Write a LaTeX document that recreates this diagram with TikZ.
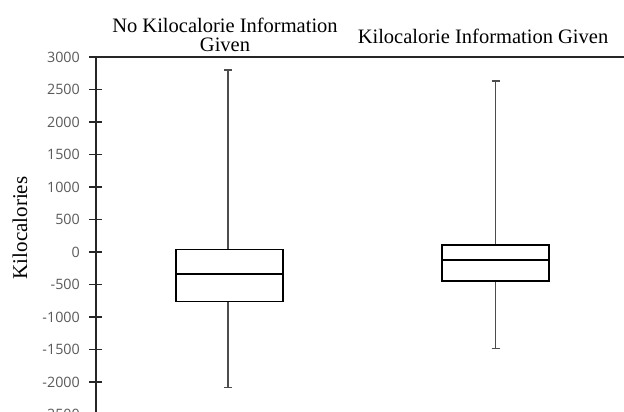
\documentclass[tikz,border=0pt]{standalone}
\usepackage{fontspec}
\setmainfont{Liberation Serif}
\newfontfamily\ticksfont{Open Sans}
\usetikzlibrary{positioning}

\definecolor{ticklabel}{HTML}{595959}
\definecolor{whiskergray}{HTML}{4D4D4D}

\tikzset{
  axisline/.style={line width=1.6pt,black!85},
  boxline/.style={line width=1.7pt,black},
  whisker/.style={line width=1.1pt,whiskergray},
  ticklab/.style={anchor=east,inner sep=0pt,text=ticklabel,font=\ticksfont\fontsize{14.3}{16}\selectfont},
  grouptitle/.style={align=center,inner sep=0pt,font=\fontsize{20.5}{19}\selectfont}
}

\begin{document}
\begin{tikzpicture}[x=1pt,y=1pt]
 \useasboundingbox (0,0) rectangle (624,412);
 % values on the y axis: 0.065pt per kilocalorie
 \begin{scope}[y=0.065pt,yshift=160pt]
  \draw[axisline] (96,3000) -- (96,-2700);
  \draw[axisline] (89,3000) -- (624,3000);
  \foreach \v in {-2500,-2000,...,2500}
   \draw[axisline] (89,\v) -- (102,\v);
  \foreach \v in {-2500,-2000,...,3000}
   \node[ticklab] at (80,\v) {\v};
  % no information given
  \draw[whisker] (228,2800) -- (228,40);
  \draw[whisker] (228,-760) -- (228,-2090);
  \draw[whisker] (224,2800) -- (232,2800);
  \draw[whisker] (224,-2090) -- (232,-2090);
  \draw[boxline,fill=white] (176,-760) rectangle (283,40);
  \draw[boxline] (176,-340) -- (283,-340);
  % information given
  \draw[whisker] (495.5,2630) -- (495.5,108);
  \draw[whisker] (495.5,-446) -- (495.5,-1490);
  \draw[whisker] (491.5,2630) -- (499.5,2630);
  \draw[whisker] (491.5,-1490) -- (499.5,-1490);
  \draw[boxline,fill=white] (442,-446) rectangle (549,108);
  \draw[boxline] (442,-128) -- (549,-128);
 \end{scope}
 \node[grouptitle] (notgiven) at (225,377) {No Kilocalorie Information\\Given};
 \node[grouptitle] (given) at (483,376) {Kilocalorie Information Given};
 \node[rotate=90,font=\fontsize{21}{22}\selectfont] (ylabel) at (20,184) {Kilocalories};
\end{tikzpicture}
\end{document}
